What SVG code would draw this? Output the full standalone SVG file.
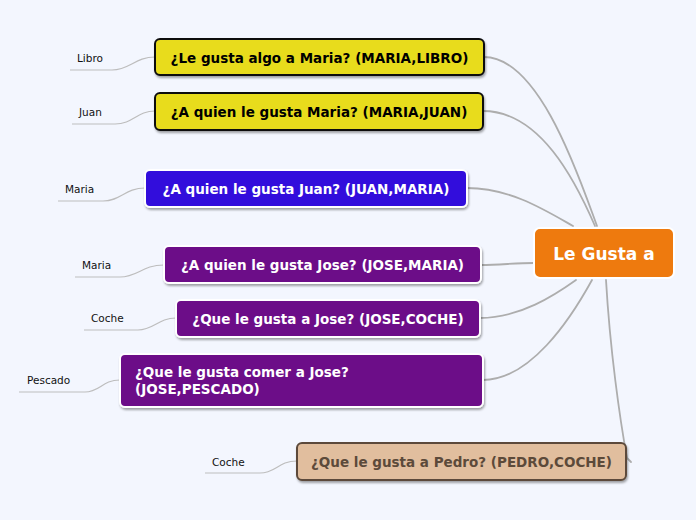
<svg xmlns="http://www.w3.org/2000/svg" width="696" height="520" viewBox="0 0 696 520">
<defs>
<filter id="sh" x="-10%" y="-20%" width="120%" height="150%">
<feDropShadow dx="1" dy="2" stdDeviation="1.2" flood-color="#000" flood-opacity="0.35"/>
</filter>
</defs>
<style>
.bg{fill:#F3F6FE}
.c{fill:none;stroke:#ADADAD;stroke-width:1.8;stroke-linecap:round}
.lc{fill:none;stroke:#BDBDBD;stroke-width:1.2}
.t{font-family:"DejaVu Sans",Verdana,sans-serif;font-weight:bold;font-size:13.5px}
.l{font-family:"DejaVu Sans",Verdana,sans-serif;font-size:10.5px;fill:#111}
.yel{fill:#E8DC1E;stroke:#111;stroke-width:2}
.blu{fill:#3010DC;stroke:#fff;stroke-width:2}
.pur{fill:#6C0888;stroke:#fff;stroke-width:2}
.tan{fill:#E1BE9E;stroke:#5C4A3A;stroke-width:2}
</style>
<rect class="bg" width="696" height="520"/>
<g id="connectors">
<path class="c" d="M484,57 C540,57 580,180 597,226"/>
<path class="c" d="M483,111 C540,111 575,180 595,226"/>
<path class="c" d="M467,188 C510,188 545,210 573,226"/>
<path class="c" d="M481,265 C500,265 515,263 534,263"/>
<path class="c" d="M480,318 C520,318 555,295 576,280"/>
<path class="c" d="M483,380 C530,380 570,320 592,280"/>
<path class="c" d="M606,280 C610,350 620,420 627,458 L631,462"/>
<path class="lc" d="M155,57 C135,57 130,70 112,70 L70,70"/>
<path class="lc" d="M155,111 C137,111 133,124 115,124 L72,124"/>
<path class="lc" d="M145,188 C125,188 121,201 103,201 L58,201"/>
<path class="lc" d="M164,265 C142,265 138,277 120,277 L75,277"/>
<path class="lc" d="M176,318 C158,318 154,330 138,330 L84,330"/>
<path class="lc" d="M120,380 C102,380 100,392 85,392 L19,392"/>
<path class="lc" d="M297,461 C278,461 276,473 260,473 L205,473"/>
</g>
<g id="center">
<rect x="534" y="228" width="140" height="50" rx="6" fill="#EE7A0E" stroke="#fff" stroke-width="2"/>
<text x="604" y="259.5" text-anchor="middle" font-family="DejaVu Sans,Verdana,sans-serif" font-weight="bold" font-size="17px" fill="#fff">Le Gusta a</text>
</g>
<g id="n1">
<rect class="yel" x="155" y="39" width="329" height="36" rx="5" filter="url(#sh)"/>
<text class="t" x="319.5" y="62.5" text-anchor="middle" fill="#000">¿Le gusta algo a Maria? (MARIA,LIBRO)</text>
</g>
<g id="n2">
<rect class="yel" x="155" y="93" width="328" height="37" rx="5" filter="url(#sh)"/>
<text class="t" x="319" y="116.5" text-anchor="middle" fill="#000">¿A quien le gusta Maria? (MARIA,JUAN)</text>
</g>
<g id="n3">
<rect class="blu" x="145" y="170" width="322" height="37" rx="5" filter="url(#sh)"/>
<text class="t" x="306" y="193.5" text-anchor="middle" fill="#fff">¿A quien le gusta Juan? (JUAN,MARIA)</text>
</g>
<g id="n4">
<rect class="pur" x="164" y="246" width="317" height="37" rx="5" filter="url(#sh)"/>
<text class="t" x="322.5" y="269.5" text-anchor="middle" fill="#fff">¿A quien le gusta Jose? (JOSE,MARIA)</text>
</g>
<g id="n5">
<rect class="pur" x="176" y="300" width="304" height="37" rx="5" filter="url(#sh)"/>
<text class="t" x="328" y="323.5" text-anchor="middle" fill="#fff">¿Que le gusta a Jose? (JOSE,COCHE)</text>
</g>
<g id="n6">
<rect class="pur" x="120" y="354" width="363" height="53" rx="5" filter="url(#sh)"/>
<text class="t" x="135" y="377" fill="#fff">¿Que le gusta comer a Jose?</text>
<text class="t" x="135" y="394" fill="#fff">(JOSE,PESCADO)</text>
</g>
<g id="n7">
<rect class="tan" x="297" y="443" width="329" height="37" rx="5" filter="url(#sh)"/>
<text class="t" x="461.5" y="466.5" text-anchor="middle" fill="#5C4A3A">¿Que le gusta a Pedro? (PEDRO,COCHE)</text>
</g>
<g id="labels">
<text class="l" x="77" y="62">Libro</text>
<text class="l" x="79" y="116">Juan</text>
<text class="l" x="65" y="193">Maria</text>
<text class="l" x="82" y="269">Maria</text>
<text class="l" x="91" y="322">Coche</text>
<text class="l" x="27" y="384">Pescado</text>
<text class="l" x="212" y="466">Coche</text>
</g>
</svg>
